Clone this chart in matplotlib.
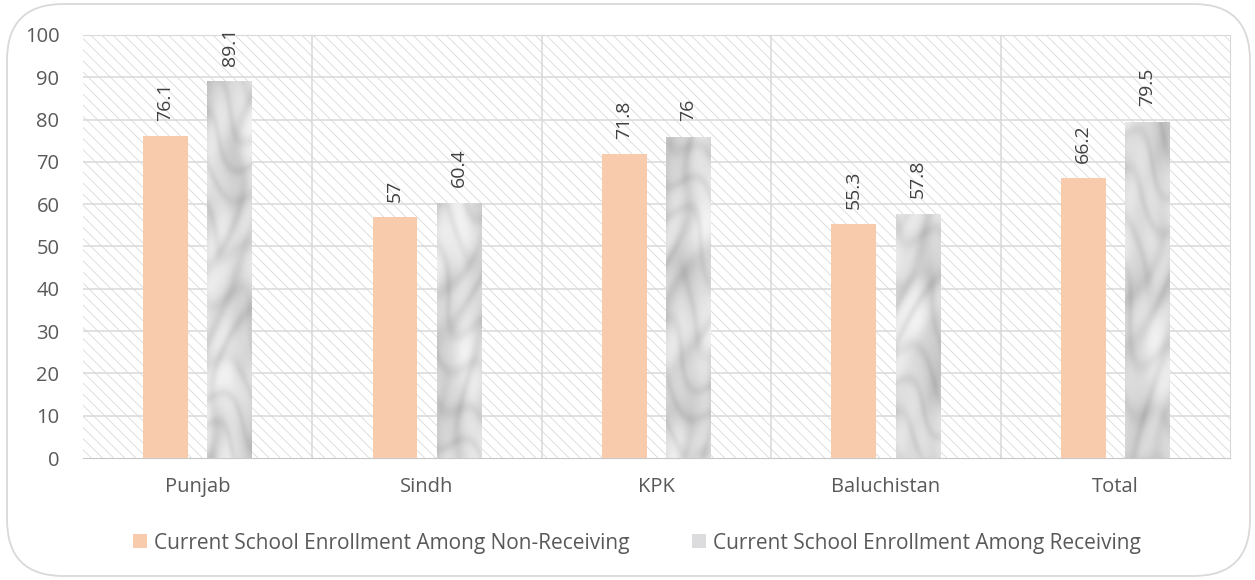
import numpy as np
import matplotlib.pyplot as plt
from matplotlib.patches import FancyBboxPatch, Patch

regions = ['Punjab', 'Sindh', 'KPK', 'Baluchistan', 'Total']
non_receiving = [76.1, 57, 71.8, 55.3, 66.2]
receiving = [89.1, 60.4, 76, 57.8, 79.5]

plt.rcParams['font.family'] = ['Open Sans', 'DejaVu Sans']
plt.rcParams['hatch.linewidth'] = 0.55
text_col = '#595959'
orange = '#F8CBAD'
W, H = 1255, 580

fig = plt.figure(figsize=(W / 100, H / 100), dpi=100)
ax = fig.add_axes([83 / W, 1 - 458 / H, 1147 / W, 423 / H])

# rounded frame around the whole chart
frame = FancyBboxPatch((7 / W, 4 / H), 1243 / W, 572 / H,
                       boxstyle='round,pad=0,rounding_size=0.045',
                       transform=fig.transFigure, fill=False,
                       edgecolor='#d9d9d9', linewidth=1.3, zorder=0,
                       mutation_aspect=W / H)
fig.patches.append(frame)

n = len(regions)
ax.set_xlim(0, n)
ax.set_ylim(0, 100)

# diagonal hatch over the plot area
ax.add_patch(plt.Rectangle((0, 0), n, 100, facecolor='white',
                           edgecolor='#d6d6d6', linewidth=0,
                           hatch='\\\\\\', zorder=0))

for y in range(10, 101, 10):
    ax.axhline(y, color='#d9d9d9', lw=1.1, zorder=1)
for x in range(1, n):
    ax.axvline(x, color='#d9d9d9', lw=1.1, zorder=1)

idx = np.arange(n)
width = 0.195
offset = 0.14
x1 = idx + 0.5 - offset
x2 = idx + 0.5 + offset

ax.bar(x1, non_receiving, width, color=orange, zorder=3)
bars2 = ax.bar(x2, receiving, width, color='#e6e6e8', zorder=3)

# soft marble-like grey texture, one slice per bar
yy, xx = np.mgrid[0:1400, 0:46].astype(float)
u = xx / 13.0 + 1.2 * np.sin(yy / 41.0) + 0.5 * np.sin(yy / 17.0 + xx / 19.0)
v = yy / 23.0 + 0.9 * np.sin(xx / 11.0 + yy / 59.0)
veins = np.exp(-(np.sin(u * 1.1 + v * 0.7) / 0.75) ** 2)
veins += 0.7 * np.exp(-(np.sin(v * 1.4 - u * 0.8 + 1.0) / 0.6) ** 2)
clouds = 0.5 + 0.5 * np.sin(yy / 33.0 + np.sin(xx / 9.0)) * np.sin(xx / 17.0 + yy / 47.0)
tex = 0.97 - 0.09 * veins - 0.12 * clouds
tex = np.clip(tex, 0.6, 0.98)
for i, b in enumerate(bars2):
    x0, w = b.get_x(), b.get_width()
    t = tex[260 * i:260 * i + 420]
    im = ax.imshow(t, cmap='gray', vmin=0, vmax=1, aspect='auto',
                   extent=(x0, x0 + w, 0, 100), zorder=4,
                   interpolation='bicubic')
    im.set_clip_path(b)

for xs, vals in ((x1, non_receiving), (x2, receiving)):
    for x, v in zip(xs, vals):
        ax.text(x, v + 3.6, f'{v:g}', rotation=90, ha='center', va='bottom',
                fontsize=14, color='#404040', zorder=5)

ax.set_xticks(idx + 0.5)
ax.set_xticklabels(regions)
ax.set_yticks(range(0, 101, 10))
ax.tick_params(axis='both', length=0, labelsize=14.5, colors=text_col)
ax.tick_params(axis='x', pad=14)
ax.tick_params(axis='y', pad=17)
ax.spines['left'].set_visible(False)
ax.spines['bottom'].set_color('#c8c8c8')
ax.spines['right'].set_color('#d9d9d9')
ax.spines['top'].set_color('#d9d9d9')

handles = [Patch(facecolor=orange, label='Current School Enrollment Among Non-Receiving'),
           Patch(facecolor='#dcdcde', label='Current School Enrollment Among Receiving')]
fig.legend(handles=handles, loc='center', bbox_to_anchor=(637 / W, 1 - 543 / H),
           ncol=2, frameon=False, fontsize=15, labelcolor=text_col,
           handlelength=0.65, handleheight=0.65, handletextpad=0.35,
           columnspacing=3.0)

fig.savefig('out.png', dpi=100)
